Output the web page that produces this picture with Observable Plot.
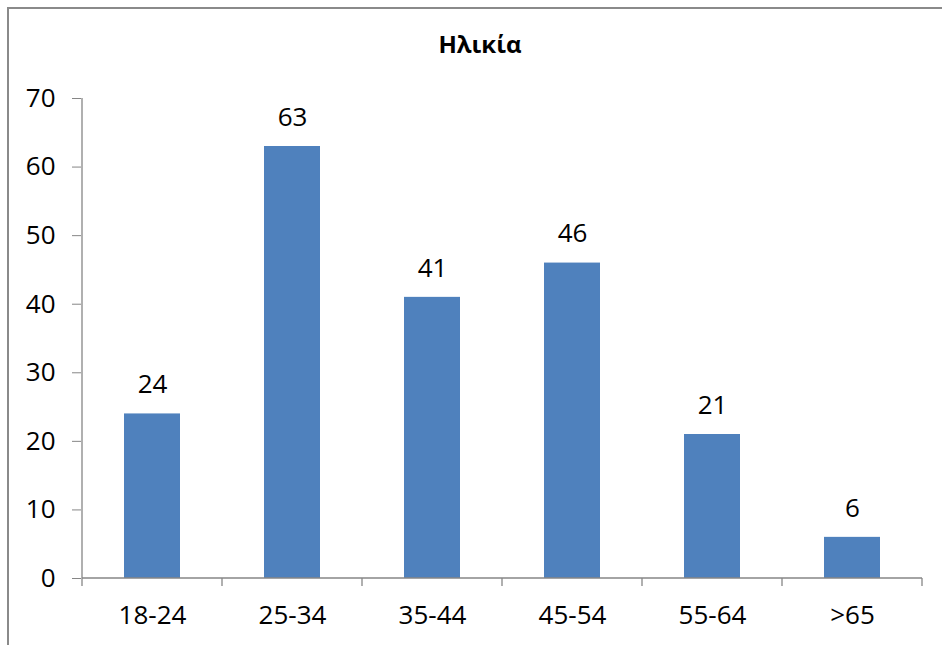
<!DOCTYPE html>
<html>
<head>
<meta charset="utf-8">
<script src="https://cdn.jsdelivr.net/npm/d3@7"></script>
<script src="https://cdn.jsdelivr.net/npm/@observablehq/plot@0.6"></script>
<style>
  html, body { margin: 0; padding: 0; background: #fff; overflow: hidden; }
  #wrap { position: relative; width: 942px; height: 645px; }
  #box { position: absolute; left: 7px; top: 7px; width: 1000px; height: 1000px;
         border-left: 2px solid #8a8a8a; border-top: 2px solid #8a8a8a; pointer-events: none; }
  #title { position: absolute; left: 7px; width: 946px; top: 32px; text-align: center;
           font-family: "Open Sans", sans-serif; font-weight: bold; font-size: 24px; line-height: 24px; color: #000; }
</style>
</head>
<body>
<div id="wrap">
  <div id="box"></div>
  <div id="title">Ηλικία</div>
</div>
<script>
// Age groups and respondent counts
const ageGroups = ["18-24", "25-34", "35-44", "45-54", "55-64", ">65"];
const counts = [24, 63, 41, 46, 21, 6];
const yTicks = [0, 10, 20, 30, 40, 50, 60, 70];

const data = ageGroups.map((g, i) => ({group: g, count: counts[i]}));
const axisGray = "#868686";
const labelSize = 26;

// Axis lines and category-boundary ticks, placed from the band scale
function axisFrame(index, scales) {
  const x = scales.x, y = scales.y;
  const off = (x.step() - x.bandwidth()) / 2;
  const dom = x.domain();
  const edges = dom.map(d => x(d) - off);
  edges.push(x(dom[dom.length - 1]) + x.bandwidth() + off);
  const y0 = y(0), yTop = y(d3.max(yTicks));
  const g = d3.create("svg:g").attr("stroke", axisGray).attr("stroke-width", 1.3);
  g.append("line").attr("x1", edges[0]).attr("x2", edges[0]).attr("y1", yTop).attr("y2", y0);
  g.append("line").attr("x1", edges[0]).attr("x2", edges[edges.length - 1]).attr("y1", y0).attr("y2", y0);
  g.selectAll("line.tk").data(edges).join("line").attr("class", "tk")
    .attr("x1", d => d).attr("x2", d => d).attr("y1", y0).attr("y2", y0 + 8);
  return g.node();
}

const chart = Plot.plot({
  width: 942,
  height: 645,
  marginLeft: 81,
  marginRight: 19,
  marginTop: 98,
  marginBottom: 67,
  style: {fontFamily: "Open Sans, sans-serif", fontSize: labelSize + "px", color: "#000", background: "transparent"},
  x: {domain: ageGroups, paddingInner: 0.6, paddingOuter: 0.3, label: null},
  y: {domain: [0, 70], label: null},
  marks: [
    Plot.barY(data, {x: "group", y: "count", fill: "#4f81bd"}),
    Plot.text(data, {x: "group", y: "count", text: d => String(d.count), dy: -29, fill: "#000", fontSize: labelSize}),
    Plot.axisY({ticks: yTicks, tickSize: 9, tickPadding: 17, stroke: axisGray, fill: "#000", label: null, fontSize: labelSize}),
    Plot.axisX({tickSize: 0, tickPadding: 27, fill: "#000", label: null, fontSize: labelSize}),
    Plot.ruleY([0], {render: axisFrame})
  ]
});

document.getElementById("wrap").appendChild(chart);
chart.style.position = "absolute";
chart.style.left = "0";
chart.style.top = "0";
</script>
</body>
</html>
